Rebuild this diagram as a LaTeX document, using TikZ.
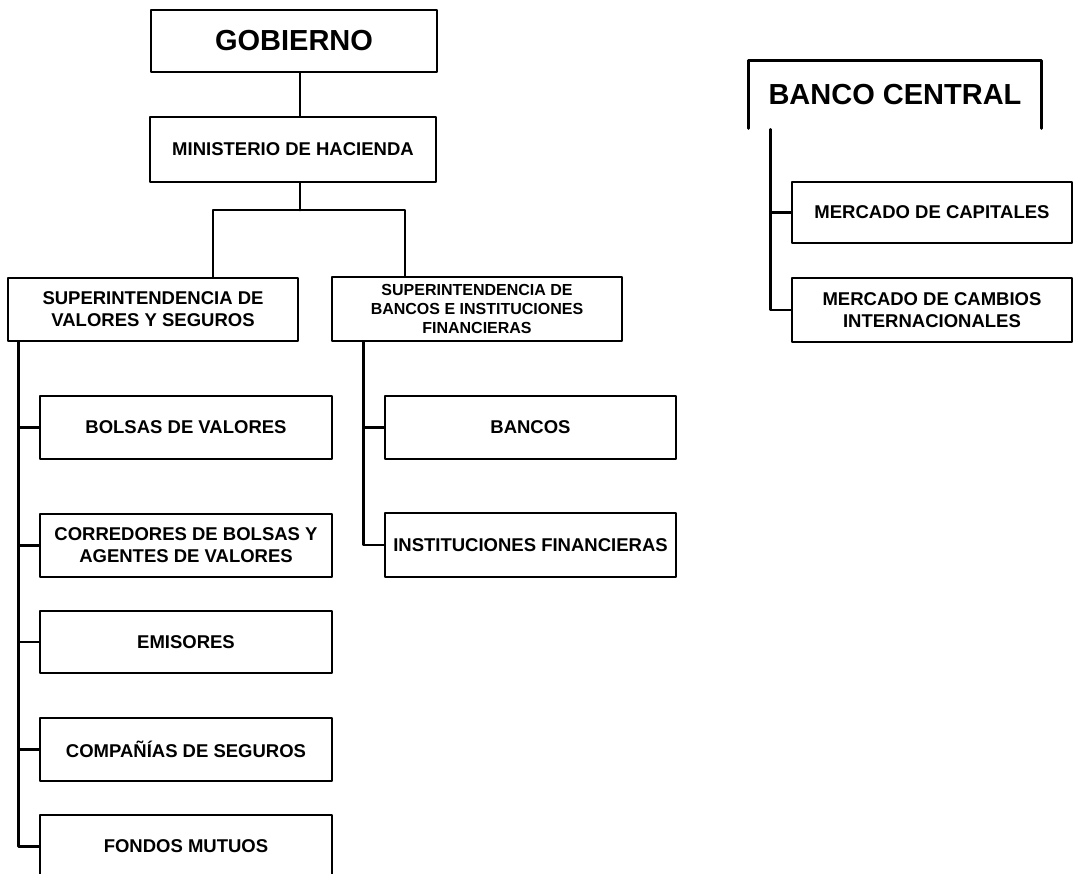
\documentclass[tikz,border=0pt]{standalone}
\usepackage{fontspec}
\setmainfont{Liberation Sans}
\begin{document}
\begin{tikzpicture}[x=1pt, y=-1pt, line width=2.9pt, line join=round, line cap=round,
	font=\bfseries\fontsize{18.5}{22}\selectfont,
	box/.style={draw, rectangle, inner sep=0pt, align=center, minimum width=#1},
	box/.default=292,
	big/.style={font=\bfseries\fontsize{29}{32}\selectfont}]
	\useasboundingbox (0,0) rectangle (1073,873);
	% cabeza
	\node[box=286, minimum height=62, big] (gob) at (294,41) {GOBIERNO};
	\node[box=286, minimum height=65] (min) at (293,149.5) {MINISTERIO DE HACIENDA};
	\node[box=290, minimum height=63] (sv) at (153,309.5) {SUPERINTENDENCIA DE\\VALORES Y SEGUROS};
	\node[box=290, minimum height=64, font=\bfseries\fontsize{16}{19}\selectfont] (sb) at (477,309)
		{SUPERINTENDENCIA DE\\BANCOS E INSTITUCIONES\\FINANCIERAS};
	\coordinate (split) at (300,210);
	\draw (gob.south -| split) -- (min.north -| split);
	\draw (min.south -| split) -- (split);
	\draw ([xshift=60pt]sv.north) |- (split) -| ([xshift=-72pt]sb.north);
	% valores y seguros
	\node[box, minimum height=63] (bol) at (186,427.5) {BOLSAS DE VALORES};
	\node[box, minimum height=63] (cor) at (186,545.5) {CORREDORES DE BOLSAS Y\\AGENTES DE VALORES};
	\node[box, minimum height=62] (emi) at (186,642) {EMISORES};
	\node[box, minimum height=63] (comp) at (186,749.5) {COMPAÑÍAS DE SEGUROS};
	\node[box, minimum height=63] (fon) at (186,846.5) {FONDOS MUTUOS};
	\draw ([xshift=12pt]sv.south west) coordinate (tv) |- (fon.west);
	\foreach \n in {bol,cor,emi,comp} \draw (\n.west) -- (\n.west -| tv);
	% bancos
	\node[box=291, minimum height=63] (ban) at (530.5,427.5) {BANCOS};
	\node[box=291, minimum height=64] (inst) at (530.5,545) {INSTITUCIONES FINANCIERAS};
	\draw ([xshift=33pt]sb.south west) coordinate (tb) |- (inst.west);
	\draw (ban.west) -- (ban.west -| tb);
	% banco central
	\node[minimum width=290, minimum height=65, inner sep=0pt, big] (bc) at (895,94.5) {BANCO CENTRAL};
	\draw (bc.south west) |- (bc.north east) -- (bc.south east);
	\node[box=280, minimum height=61] (cap) at (932,212.5) {MERCADO DE CAPITALES};
	\node[box=280, minimum height=64] (cam) at (932,310) {MERCADO DE CAMBIOS\\INTERNACIONALES};
	\draw ([xshift=22pt, yshift=-1pt]bc.south west) coordinate (tc) |- (cam.west);
	\draw (cap.west) -- (cap.west -| tc);
\end{tikzpicture}
\end{document}
